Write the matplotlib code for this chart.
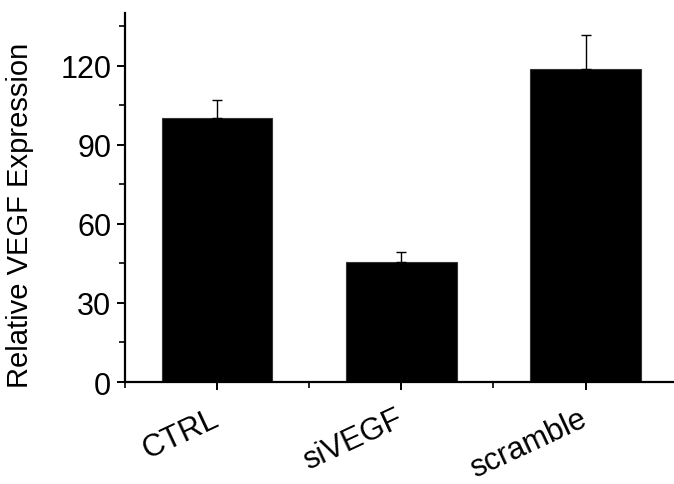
import numpy as np
import matplotlib
matplotlib.use("Agg")
import matplotlib.pyplot as plt
from matplotlib.ticker import MultipleLocator, FixedLocator

plt.rcParams["font.family"] = ["Liberation Sans", "DejaVu Sans"]

groups = ["CTRL", "siVEGF", "scramble"]
expression = [100.0, 45.7, 118.6]
sem = [7.1, 3.8, 13.0]

fig = plt.figure(figsize=(6.74, 4.85), dpi=100)
ax = fig.add_axes([0.1855, 0.2103, 0.82, 0.761])

x = np.arange(1, len(groups) + 1)
ax.bar(x, expression, width=0.6, color="black", edgecolor="#333333", linewidth=0.8)
ax.errorbar(x, expression, yerr=[np.zeros(len(sem)), sem], fmt="none",
            ecolor="black", elinewidth=1.0, capsize=3.5, capthick=1.0)

ax.set_xlim(0.5, 3.5)
ax.set_ylim(0, 140)
ax.yaxis.set_major_locator(MultipleLocator(30))
ax.yaxis.set_minor_locator(MultipleLocator(15))
ax.set_xticks(x)
ax.xaxis.set_minor_locator(FixedLocator([0.5, 1.5, 2.5, 3.5]))
ax.set_xticklabels([])

# slanted group names, sitting a bit right of each tick like the original
for xi, name in zip(x, groups):
    ax.annotate(name, xy=(xi, 0), xycoords=("data", "axes fraction"),
                xytext=(4.6, -15.0), textcoords="offset points",
                rotation=25, ha="right", va="top", fontsize=22.2)

for side in ["top", "right"]:
    ax.spines[side].set_visible(False)
for side in ["left", "bottom"]:
    ax.spines[side].set_linewidth(1.6)

ax.tick_params(axis="y", which="major", length=6, width=1.4, labelsize=22, pad=4)
ax.tick_params(axis="y", which="minor", length=4, width=1.2)
ax.tick_params(axis="x", which="major", length=6, width=1.4)
ax.tick_params(axis="x", which="minor", length=4, width=1.2)

ax.set_ylabel("Relative VEGF Expression", fontsize=21)
ax.yaxis.set_label_coords(-0.1646, 0.454)

fig.savefig("out.png", dpi=100)
